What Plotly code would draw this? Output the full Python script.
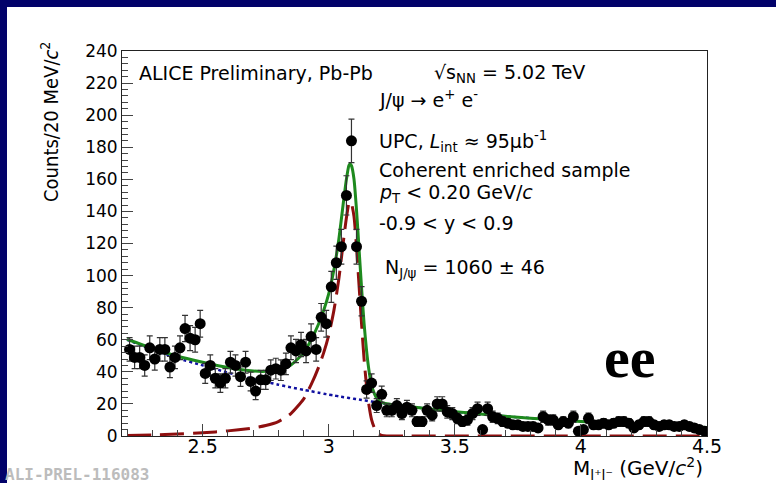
import numpy as np
import plotly.graph_objects as go

# ---- histogram: dielectron invariant mass, 20 MeV bins from 2.2 to 4.5 GeV/c^2 ----
bin_lo = 2.20
bin_width = 0.02
counts = [
    54, 49, 49, 44, 55, 48, 54, 54, 43, 49,      # 2.21 - 2.39
    55, 67, 61, 60, 70, 39, 44, 36, 33, 36,      # 2.41 - 2.59
    46, 44, 37, 46, 34, 28, 35, 35, 41, 42,      # 2.61 - 2.79
    41, 45, 55, 53, 57, 53, 62, 54, 74, 70,      # 2.81 - 2.99
    93, 108, 118, 150, 184, 118, 84, 29, 33, 19, # 3.01 - 3.19
    26, 16, 16, 19, 14, 18, 16, 9, 9, 16,        # 3.21 - 3.39
    13, 20, 20, 15, 14, 11, 9, 10, 14, 17,       # 3.41 - 3.59
    4, 17, 12, 11, 9, 8, 7, 7, 6, 6,             # 3.61 - 3.79
    6, 5, 12, 10, 10, 7, 9, 8, 12, 3,            # 3.81 - 3.99
    4, 11, 7, 7, 8, 7, 8, 9, 9, 8,               # 4.01 - 4.19
    5, 7, 9, 9, 7, 6, 7, 7, 6, 6,                # 4.21 - 4.39
    7, 6, 5, 4, 3,                               # 4.41 - 4.49
]
mass = np.round(bin_lo + bin_width * (np.arange(len(counts)) + 0.5), 3)
stat_err = np.sqrt(np.array(counts, dtype=float))

# ---- fit components sampled along the mass axis ----
fit_mass = [2.20, 2.30, 2.40, 2.50, 2.60, 2.70, 2.75, 2.80, 2.85, 2.90,
            2.93, 2.96, 2.98, 3.00, 3.02, 3.04, 3.06, 3.07, 3.08, 3.085,
            3.09, 3.10, 3.11, 3.12, 3.13, 3.14, 3.15, 3.16, 3.17, 3.18,
            3.19, 3.20, 3.21, 3.23, 3.30, 3.40, 3.50, 3.60, 3.70, 3.80,
            3.90, 4.00, 4.10, 4.20, 4.30, 4.40, 4.50]
# J/psi signal (Crystal Ball shape)
fit_signal = [0.3, 0.7, 1.2, 2.0, 3.2, 5.0, 6.5, 9.0, 14.0, 23.0,
              32.0, 43.0, 52.0, 63.0, 78.0, 98.0, 124.0, 136.0, 145.0, 146.0,
              145.0, 137.0, 118.0, 94.0, 70.0, 48.0, 31.0, 18.5, 10.0, 5.4,
              2.6, 1.1, 0.4, 0.0, 0.0, 0.0, 0.0, 0.0, 0.0, 0.0,
              0.0, 0.0, 0.0, 0.0, 0.0, 0.0, 0.0]
# continuum background
fit_background = [60.0, 54.0, 48.5, 44.0, 39.5, 35.5, 33.8, 32.0, 30.3, 28.8,
                  27.9, 27.0, 26.4, 25.8, 25.3, 24.7, 24.2, 24.0, 23.7, 23.6,
                  23.5, 23.2, 23.0, 22.7, 22.5, 22.2, 22.0, 21.7, 21.5, 21.3,
                  21.0, 20.8, 20.6, 20.1, 18.7, 16.9, 15.2, 13.7, 12.3, 11.1,
                  10.0, 9.0, 8.1, 7.3, 6.6, 5.9, 5.3]
fit_total = [s + b for s, b in zip(fit_signal, fit_background)]

x_tickvals = [2.5, 3.0, 3.5, 4.0, 4.5]
x_ticktext = ["2.5", "3", "3.5", "4", "4.5"]
y_tickvals = [0, 20, 40, 60, 80, 100, 120, 140, 160, 180, 200, 220, 240]

# ---- page geometry (pixels) ----
W, H = 776, 483
ML, MR, MT, MB = 122, 69, 51, 47
PW, PH = W - ML - MR, H - MT - MB


def px(x):
    return (x - ML) / PW


def py(y):
    return (H - MB - y) / PH


SANS = "DejaVu Sans, Liberation Sans, Arial, sans-serif"
NAVY = "#02026a"

fig = go.Figure()

fig.add_trace(go.Scatter(
    x=fit_mass, y=fit_signal, mode="lines",
    line=dict(color="#8e0f0f", width=3, dash="24px,9px", shape="spline", smoothing=0.6),
    hoverinfo="skip",
))
fig.add_trace(go.Scatter(
    x=fit_mass, y=fit_background, mode="lines",
    line=dict(color="#1010a0", width=2.5, dash="3px,3px", shape="spline", smoothing=0.6),
    hoverinfo="skip",
))
fig.add_trace(go.Scatter(
    x=fit_mass, y=fit_total, mode="lines",
    line=dict(color="#1e8a1e", width=3, shape="spline", smoothing=0.6),
    hoverinfo="skip",
))
fig.add_trace(go.Scatter(
    x=mass, y=counts, mode="markers",
    marker=dict(color="black", size=11, symbol="circle"),
    error_y=dict(type="data", array=stat_err, visible=True,
                 color="#333333", thickness=1.2, width=3),
))

annotations = [
    dict(text="ALICE Preliminary, Pb-Pb", x=px(137), y=py(73)),
    dict(text="√s<sub>NN</sub> = 5.02 TeV", x=px(432), y=py(73)),
    dict(text="J/ψ → e<sup>+</sup> e<sup>-</sup>", x=px(377), y=py(99)),
    dict(text="UPC, <i>L</i><sub>int</sub> ≈ 95μb<sup>-1</sup>", x=px(377), y=py(141)),
    dict(text="Coherent enriched sample", x=px(377), y=py(170)),
    dict(text="<i>p</i><sub>T</sub> &lt; 0.20 GeV/<i>c</i>", x=px(377), y=py(193)),
    dict(text="-0.9 &lt; y &lt; 0.9", x=px(377), y=py(223)),
    dict(text="N<sub>J/ψ</sub> = 1060 ± 46", x=px(383), y=py(268)),
]
for a in annotations:
    fig.add_annotation(xref="paper", yref="paper", xanchor="left", yanchor="middle",
                       showarrow=False, font=dict(family=SANS, size=19, color="black"), **a)

# axis titles
fig.add_annotation(
    text="Counts/20 MeV/<i>c</i><sup>2</sup>", textangle=-90,
    xref="paper", yref="paper", x=px(50), y=py(40), xanchor="center", yanchor="top",
    showarrow=False,
    font=dict(family="Liberation Sans Narrow, DejaVu Sans Condensed, Liberation Sans, Arial",
              size=20, color="black"),
)
fig.add_annotation(
    text="M<sub>l⁺l⁻</sub> (GeV/<i>c</i><sup>2</sup>)",
    xref="paper", yref="paper", x=px(705), y=py(468), xanchor="right", yanchor="middle",
    showarrow=False, font=dict(family=SANS, size=20, color="black"),
)
# channel tag
fig.add_annotation(
    text="<b>ee</b>", xref="paper", yref="paper", x=px(630), y=py(357),
    xanchor="center", yanchor="middle", showarrow=False,
    font=dict(family="Liberation Serif, Times New Roman, serif", size=58, color="black"),
)
# figure id
fig.add_annotation(
    text="<b>ALI-PREL-116083</b>", xref="paper", yref="paper", x=px(3), y=py(475),
    xanchor="left", yanchor="middle", showarrow=False,
    font=dict(family="DejaVu Sans Mono, Liberation Mono, monospace", size=16, color="#bcbcbc"),
)

# dark slide border on the left and top edges
fig.add_shape(type="rect", xref="paper", yref="paper", x0=px(0), x1=px(7), y0=py(H), y1=py(0),
              fillcolor=NAVY, line_width=0, layer="above")
fig.add_shape(type="rect", xref="paper", yref="paper", x0=px(0), x1=px(W), y0=py(7), y1=py(0),
              fillcolor=NAVY, line_width=0, layer="above")

axis_common = dict(
    showline=True, mirror=True, linecolor="#222222", linewidth=1,
    showgrid=False, zeroline=False, ticks="inside", tickcolor="#444444", tickwidth=1,
)
fig.update_xaxes(
    range=[2.18, 4.5], tickmode="array", tickvals=x_tickvals, ticktext=x_ticktext,
    ticklen=12, ticklabelstandoff=-7,
    tickfont=dict(family=SANS, size=19, color="black"),
    minor=dict(ticks="inside", ticklen=6, tick0=2.2, dtick=0.1, tickcolor="#444444"),
    **axis_common,
)
fig.update_yaxes(
    range=[0, 240], tickmode="array", tickvals=y_tickvals, ticklen=11,
    tickfont=dict(family=SANS, size=17, color="black"),
    minor=dict(ticks="inside", ticklen=6, tick0=0, dtick=4, tickcolor="#444444"),
    **axis_common,
)

fig.update_layout(
    width=W, height=H, margin=dict(l=ML, r=MR, t=MT, b=MB, pad=0),
    paper_bgcolor="white", plot_bgcolor="white", showlegend=False,
)

fig.write_html("out.html")
